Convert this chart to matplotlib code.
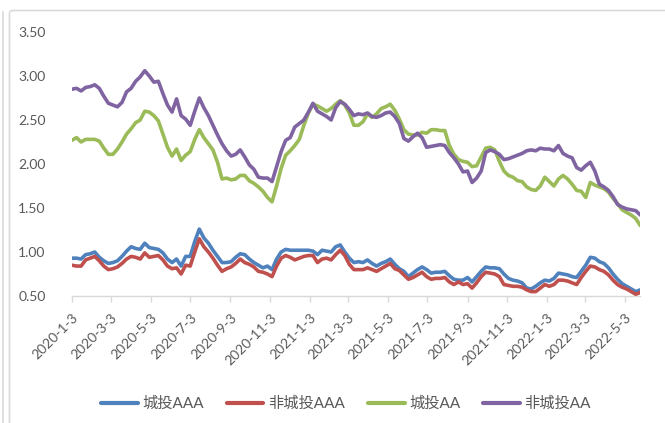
import datetime as dt
import numpy as np
import matplotlib
matplotlib.use("Agg")
import matplotlib.pyplot as plt
import matplotlib.dates as mdates
from matplotlib.patches import FancyBboxPatch
from matplotlib.lines import Line2D

# Weekly spreads (Fridays), 2020-01-03 .. 2022-05-27
start_date = dt.date(2020, 1, 3)
n_weeks = 126
dates = [start_date + dt.timedelta(days=7 * i) for i in range(n_weeks)]

series_names = ["城投AAA", "非城投AAA", "城投AA", "非城投AA"]

chengtou_aaa = [
    0.93, 0.93, 0.92, 0.97, 0.98, 1.00, 0.94, 0.90, 0.87, 0.88,
    0.90, 0.95, 1.01, 1.06, 1.04, 1.03, 1.10, 1.05, 1.04, 1.03,
    0.99, 0.92, 0.88, 0.92, 0.84, 0.95, 0.95, 1.12, 1.26, 1.16,
    1.10, 1.02, 0.95, 0.88, 0.88, 0.89, 0.94, 0.98, 0.97, 0.92,
    0.88, 0.85, 0.82, 0.84, 0.80, 0.92, 1.00, 1.03, 1.02, 1.02,
    1.02, 1.02, 1.02, 1.01, 0.97, 1.02, 1.01, 1.00, 1.06, 1.08,
    1.00, 0.93, 0.88, 0.89, 0.88, 0.91, 0.87, 0.84, 0.87, 0.89,
    0.92, 0.86, 0.81, 0.78, 0.72, 0.76, 0.80, 0.83, 0.80, 0.76,
    0.77, 0.77, 0.78, 0.73, 0.69, 0.68, 0.68, 0.71, 0.66, 0.72,
    0.78, 0.83, 0.82, 0.82, 0.81, 0.75, 0.70, 0.68, 0.67, 0.65,
    0.59, 0.58, 0.61, 0.65, 0.68, 0.67, 0.70, 0.76, 0.75, 0.74,
    0.72, 0.71, 0.78, 0.85, 0.94, 0.93, 0.89, 0.87, 0.82, 0.75,
    0.69, 0.64, 0.61, 0.58, 0.55, 0.57,
]

fei_chengtou_aaa = [
    0.85, 0.84, 0.84, 0.91, 0.93, 0.95, 0.90, 0.84, 0.80, 0.81,
    0.83, 0.87, 0.92, 0.95, 0.94, 0.92, 0.99, 0.94, 0.95, 0.96,
    0.91, 0.84, 0.81, 0.82, 0.75, 0.85, 0.84, 1.00, 1.15, 1.06,
    1.00, 0.93, 0.85, 0.78, 0.81, 0.83, 0.87, 0.92, 0.88, 0.86,
    0.83, 0.78, 0.77, 0.75, 0.72, 0.84, 0.93, 0.96, 0.94, 0.91,
    0.93, 0.95, 0.96, 0.96, 0.88, 0.92, 0.93, 0.91, 0.97, 1.02,
    0.96, 0.86, 0.80, 0.80, 0.80, 0.82, 0.80, 0.78, 0.81, 0.84,
    0.87, 0.81, 0.79, 0.74, 0.69, 0.71, 0.74, 0.77, 0.72, 0.69,
    0.70, 0.70, 0.71, 0.66, 0.63, 0.66, 0.63, 0.64, 0.59, 0.65,
    0.72, 0.77, 0.76, 0.75, 0.72, 0.63, 0.62, 0.61, 0.61, 0.60,
    0.57, 0.55, 0.55, 0.59, 0.63, 0.61, 0.63, 0.68, 0.68, 0.67,
    0.65, 0.63, 0.71, 0.78, 0.84, 0.83, 0.80, 0.78, 0.74, 0.68,
    0.63, 0.60, 0.58, 0.55, 0.52, 0.54,
]

chengtou_aa = [
    2.27, 2.30, 2.25, 2.28, 2.28, 2.28, 2.26, 2.18, 2.11, 2.11,
    2.17, 2.25, 2.34, 2.40, 2.47, 2.50, 2.60, 2.59, 2.55, 2.49,
    2.34, 2.19, 2.09, 2.17, 2.04, 2.10, 2.14, 2.28, 2.39, 2.30,
    2.23, 2.16, 2.02, 1.83, 1.84, 1.82, 1.83, 1.87, 1.87, 1.81,
    1.78, 1.74, 1.69, 1.62, 1.57, 1.75, 1.95, 2.10, 2.15, 2.21,
    2.28, 2.44, 2.58, 2.68, 2.66, 2.63, 2.60, 2.63, 2.68, 2.72,
    2.67, 2.58, 2.44, 2.44, 2.48, 2.57, 2.53, 2.57, 2.63, 2.65,
    2.68, 2.61, 2.51, 2.39, 2.34, 2.33, 2.33, 2.36, 2.35, 2.39,
    2.39, 2.38, 2.38, 2.21, 2.11, 2.05, 2.03, 2.02, 1.97, 1.98,
    2.08, 2.18, 2.19, 2.16, 2.03, 1.92, 1.87, 1.85, 1.81, 1.80,
    1.74, 1.71, 1.70, 1.75, 1.85, 1.80, 1.75, 1.83, 1.87, 1.83,
    1.77, 1.70, 1.69, 1.62, 1.79, 1.76, 1.74, 1.72, 1.68, 1.61,
    1.55, 1.48, 1.45, 1.42, 1.38, 1.30,
]

fei_chengtou_aa = [
    2.85, 2.86, 2.83, 2.87, 2.88, 2.90, 2.86, 2.77, 2.69, 2.67,
    2.65, 2.70, 2.82, 2.86, 2.94, 2.99, 3.06, 3.00, 2.93, 2.94,
    2.80, 2.67, 2.59, 2.74, 2.55, 2.51, 2.44, 2.60, 2.75, 2.64,
    2.55, 2.44, 2.33, 2.23, 2.15, 2.09, 2.11, 2.16, 2.08, 1.99,
    1.94, 1.85, 1.84, 1.84, 1.80, 1.97, 2.14, 2.27, 2.30, 2.42,
    2.46, 2.50, 2.59, 2.69, 2.60, 2.57, 2.54, 2.50, 2.64, 2.71,
    2.68, 2.62, 2.55, 2.57, 2.56, 2.58, 2.54, 2.53, 2.55, 2.58,
    2.59, 2.54, 2.46, 2.29, 2.26, 2.31, 2.35, 2.30, 2.19, 2.20,
    2.21, 2.22, 2.21, 2.13, 2.07, 2.00, 1.91, 1.92, 1.79, 1.84,
    1.92, 2.13, 2.16, 2.14, 2.11, 2.05, 2.06, 2.08, 2.10, 2.12,
    2.15, 2.16, 2.15, 2.18, 2.17, 2.17, 2.15, 2.21, 2.12, 2.09,
    2.07, 1.96, 1.93, 1.98, 2.02, 1.92, 1.77, 1.74, 1.70, 1.63,
    1.54, 1.51, 1.49, 1.48, 1.47, 1.42,
]

tick_dates = [
    dt.date(2020, 1, 3), dt.date(2020, 3, 3), dt.date(2020, 5, 3),
    dt.date(2020, 7, 3), dt.date(2020, 9, 3), dt.date(2020, 11, 3),
    dt.date(2021, 1, 3), dt.date(2021, 3, 3), dt.date(2021, 5, 3),
    dt.date(2021, 7, 3), dt.date(2021, 9, 3), dt.date(2021, 11, 3),
    dt.date(2022, 1, 3), dt.date(2022, 3, 3), dt.date(2022, 5, 3),
]
y_ticks = [0.5, 1.0, 1.5, 2.0, 2.5, 3.0, 3.5]

colors = ["#4F81BD", "#C0504D", "#9BBB59", "#8064A2"]
text_color = "#595959"
axis_color = "#D9D9D9"
num_font = ["Lato", "DejaVu Sans"]
cjk_font = ["Lato", "Noto Sans CJK SC", "DejaVu Sans"]

W, H = 665, 423
fig = plt.figure(figsize=(W / 100, H / 100), dpi=100)
fig.patch.set_facecolor("white")

# Outer frame pieces
fig.add_artist(Line2D([2.5 / W, 2.5 / W], [0, 1 - 12 / H], transform=fig.transFigure,
                      color=axis_color, lw=1.2))
fig.add_artist(FancyBboxPatch((9.5 / W, -0.05), 1.0, 1 - 10.5 / H + 0.05,
                              boxstyle="round,pad=0,rounding_size=0.006",
                              transform=fig.transFigure, fill=False,
                              edgecolor=axis_color, lw=1.2))

left, right = 72 / W, 640.3 / W
bottom, top = 1 - 296 / H, 1 - 32 / H
ax = fig.add_axes([left, bottom, right - left, top - bottom])

all_series = [chengtou_aaa, fei_chengtou_aaa, chengtou_aa, fei_chengtou_aa]
for i, (vals, name, c) in enumerate(zip(all_series, series_names, colors)):
    ax.plot(dates, vals, color=c, lw=2.6, label=name, zorder=2 + i,
            solid_joinstyle="round", solid_capstyle="round")

ax.set_xlim(dates[0], dates[-1])
ax.set_ylim(0.5, 3.5)

ax.set_yticks(y_ticks)
ax.set_yticklabels([f"{v:.2f}" for v in y_ticks], fontfamily=num_font,
                   fontsize=10, color=text_color)
ax.tick_params(axis="y", length=0, pad=19)

ax.set_xticks([mdates.date2num(d) for d in tick_dates])
ax.set_xticklabels([f"{d.year}-{d.month}-{d.day}" for d in tick_dates],
                   fontfamily=num_font, fontsize=10, color=text_color,
                   rotation=45, ha="right", rotation_mode="anchor")
ax.tick_params(axis="x", direction="out", length=4, width=1, color=axis_color, pad=7)

for side in ["top", "right", "left"]:
    ax.spines[side].set_visible(False)
ax.spines["bottom"].set_color(axis_color)
ax.spines["bottom"].set_linewidth(1)

leg = fig.legend(loc="center", bbox_to_anchor=(346 / W, 1 - 404 / H), ncol=4,
                 frameon=False, handlelength=2.4, handletextpad=0.3,
                 columnspacing=1.5, prop={"family": cjk_font, "size": 11})
for t in leg.get_texts():
    t.set_color(text_color)
for h in leg.legend_handles:
    h.set_linewidth(3.0)

fig.savefig("out.png", dpi=100, facecolor="white")
